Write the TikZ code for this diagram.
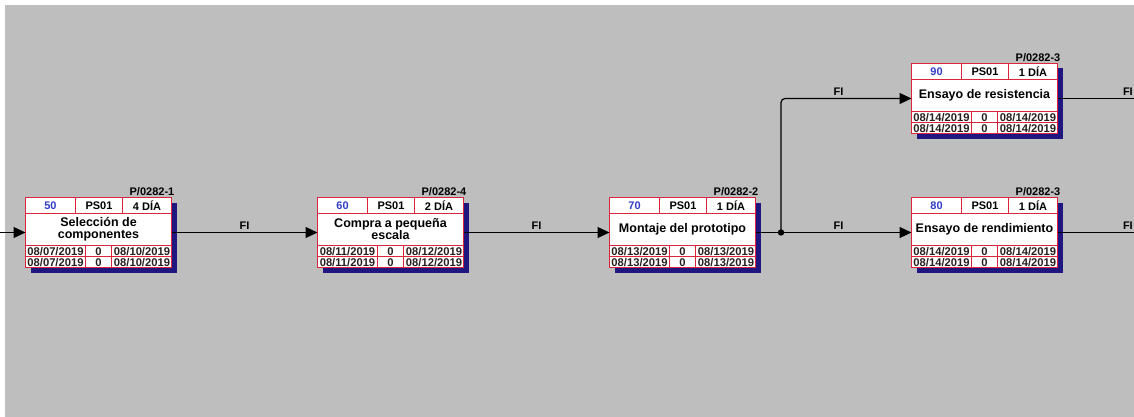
\documentclass[tikz,border=0pt]{standalone}
\usepackage{fontspec}
\setmainfont{Liberation Sans}
\usetikzlibrary{arrows.meta}
\definecolor{bggray}{RGB}{190,190,190}
\definecolor{boxred}{RGB}{220,36,60}
\definecolor{shadowblue}{RGB}{32,22,128}
\definecolor{numblue}{RGB}{50,60,200}
\definecolor{datetext}{RGB}{40,30,30}
\tikzset{
  actnode/.style={draw=boxred, fill=white, minimum width=146pt, minimum height=70pt, inner sep=0pt, outer sep=0pt, line width=1pt},
  cell/.style={draw=boxred, line width=1pt},
  numtext/.style={font=\fontsize{11}{12}\selectfont\bfseries, text=numblue, inner sep=0pt},
  toptext/.style={font=\fontsize{11}{12}\selectfont\bfseries, inner sep=0pt},
  titletext/.style={font=\fontsize{12.5}{12}\selectfont\bfseries, align=center, inner sep=0pt},
  datestyle/.style={font=\fontsize{11.2}{11}\selectfont\bfseries, text=datetext, inner sep=0pt},
  idlabel/.style={font=\fontsize{11}{12}\selectfont\bfseries, inner sep=0pt, anchor=base east},
  conn/.style={draw=black, line width=1.2pt, -{Triangle[length=12pt,width=11pt]}},
  plainconn/.style={draw=black, line width=1.2pt},
  fi/.style={font=\fontsize{11}{12}\selectfont\bfseries, anchor=base, yshift=3pt, inner sep=0pt},
}
% #1 name, #2 x, #3 y, #4 number, #5 duration, #6 title, #7 start, #8 finish, #9 id label
\newcommand{\actbox}[9]{%
  \fill[shadowblue] (#2+5,#3+5) rectangle (#2+151,#3+75);
  \node[actnode, anchor=north west] (#1) at (#2,#3) {};
  \draw[cell] (#2,#3+16) -- ++(146,0) (#2,#3+48) -- ++(146,0) (#2,#3+59) -- ++(146,0)
    (#2+50,#3) -- ++(0,16) (#2+97,#3) -- ++(0,16)
    (#2+60,#3+48) -- ++(0,22) (#2+86,#3+48) -- ++(0,22);
  \node[numtext] (#1-num) at (#2+25,#3+8.5) {#4};
  \node[toptext] (#1-res) at (#2+73.5,#3+8.5) {PS01};
  \node[toptext] (#1-dur) at (#2+121.5,#3+8.5) {#5};
  \node[titletext] (#1-title) at (#2+73,#3+32) {#6};
  \node[datestyle] (#1-es) at (#2+30,#3+54) {#7};
  \node[datestyle] (#1-f1) at (#2+73,#3+54) {0};
  \node[datestyle] (#1-ef) at (#2+116.5,#3+54) {#8};
  \node[datestyle] (#1-ls) at (#2+30,#3+65) {#7};
  \node[datestyle] (#1-f2) at (#2+73,#3+65) {0};
  \node[datestyle] (#1-lf) at (#2+116.5,#3+65) {#8};
  \node[idlabel] (#1-id) at (#2+149,#3-2) {#9};
}
\begin{document}
\begin{tikzpicture}[x=1pt,y=-1pt]
  \useasboundingbox (0,0) rectangle (1134,417);
  \fill[white] (0,0) rectangle (1134,417);
  \fill[bggray] (5,5) rectangle (1134,417);

  \actbox{b50}{25.5}{197.5}{50}{4 DÍA}{Selección de\\componentes}{08/07/2019}{08/10/2019}{P/0282-1}
  \actbox{b60}{317.5}{197.5}{60}{2 DÍA}{Compra a pequeña\\escala}{08/11/2019}{08/12/2019}{P/0282-4}
  \actbox{b70}{609.5}{197.5}{70}{1 DÍA}{Montaje del prototipo}{08/13/2019}{08/13/2019}{P/0282-2}
  \actbox{b80}{911.5}{197.5}{80}{1 DÍA}{Ensayo de rendimiento}{08/14/2019}{08/14/2019}{P/0282-3}
  \actbox{b90}{911.5}{63.5}{90}{1 DÍA}{Ensayo de resistencia}{08/14/2019}{08/14/2019}{P/0282-3}

  \coordinate (in1) at (0,232.5);
  \coordinate (j) at (781,232.5);
  \coordinate (out80) at (1134,232.5);
  \coordinate (out90) at (1134,98.5);

  \draw[conn] (in1) -- (b50.west);
  \draw[conn] (b50.east) -- (b60.west) node[fi, pos=0.5] {FI};
  \draw[conn] (b60.east) -- (b70.west) node[fi, pos=0.5] {FI};
  \draw[plainconn] (b70.east) -- (j);
  \draw[conn] (j) -- (b80.west) node[fi, pos=0.44] {FI};
  \draw[conn, rounded corners=4pt] (j) |- (b90.west) node[fi, pos=0.72] {FI};
  \fill[black] (j) circle (3.2pt);
  \draw[plainconn] (b80.east) -- (out80) node[fi, pos=0.92] {FI};
  \draw[plainconn] (b90.east) -- (out90) node[fi, pos=0.92] {FI};
\end{tikzpicture}
\end{document}
